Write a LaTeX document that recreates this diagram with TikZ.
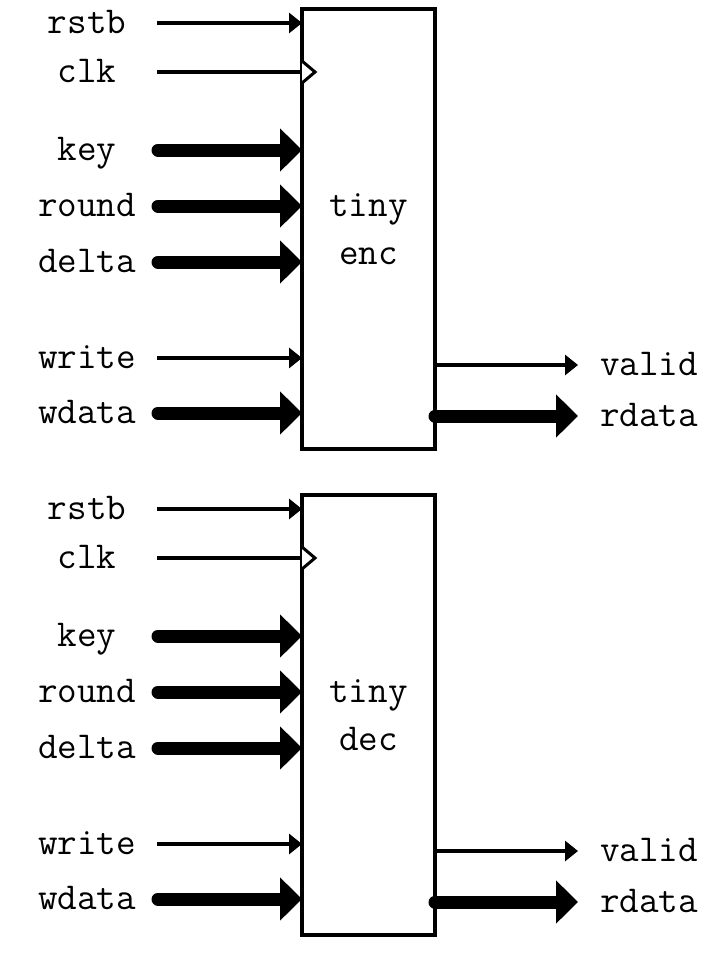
\documentclass[tikz,border=0pt]{standalone}
\usetikzlibrary{arrows.meta}

\begin{document}
\begin{tikzpicture}[x=1pt,y=-1pt]
\tikzstyle{every node}=[font=\ttfamily\fontsize{38}{48}\selectfont, inner sep=0];
\tikzstyle{port}=[anchor=base];
\tikzstyle{wire}=[line width=3.5pt, -{Triangle[length=13pt,width=20pt]}];
\tikzstyle{bus}=[line width=13pt, line cap=round, -{Triangle[length=22pt,width=42pt]}];
\useasboundingbox (0,0) rectangle (719,962);
\foreach \n/\dy in {enc/0, dec/486} {
\begin{scope}[yshift=-\dy pt]
\node [draw, line width=4pt, outer sep=0, minimum width=133pt, minimum height=440pt, align=center] (box\n) at (368.5,229) {tiny\\\n};
% inputs
\node [port] (rstb\n) at (87,33) {rstb};
\node [port] (clk\n) at (87,82) {clk};
\node [port] (key\n) at (87,160) {key};
\node [port] (round\n) at (87,216) {round};
\node [port] (delta\n) at (87,272) {delta};
\node [port] (write\n) at (87,368) {write};
\node [port] (wdata\n) at (87,423) {wdata};
\coordinate (i-rstb-\n) at (157,23);
\coordinate (i-clk-\n) at (157,72);
\coordinate (i-key-\n) at (158,150);
\coordinate (i-round-\n) at (158,206);
\coordinate (i-delta-\n) at (158,262);
\coordinate (i-write-\n) at (157,358);
\coordinate (i-wdata-\n) at (158,413);
\draw [wire] (i-rstb-\n) -- (i-rstb-\n -| box\n.west);
\draw [line width=3.5pt] (i-clk-\n) -- (i-clk-\n -| box\n.west);
\draw [line width=3pt, fill=white] (i-clk-\n -| box\n.west) ++(0,-11) -- ++(13,11) -- ++(-13,11);
\draw [bus] (i-key-\n) -- (i-key-\n -| box\n.west);
\draw [bus] (i-round-\n) -- (i-round-\n -| box\n.west);
\draw [bus] (i-delta-\n) -- (i-delta-\n -| box\n.west);
\draw [wire] (i-write-\n) -- (i-write-\n -| box\n.west);
\draw [bus] (i-wdata-\n) -- (i-wdata-\n -| box\n.west);
% outputs
\node [port, anchor=base west] (valid\n) at (600,375) {valid};
\node [port, anchor=base west] (rdata\n) at (600,426) {rdata};
\coordinate (o-valid-\n) at (578,365);
\coordinate (o-rdata-\n) at (578,416);
\draw [wire] (o-valid-\n -| box\n.east) -- (o-valid-\n);
\draw [bus] (o-rdata-\n -| box\n.east) -- (o-rdata-\n);
\end{scope}}
\end{tikzpicture}
\end{document}
